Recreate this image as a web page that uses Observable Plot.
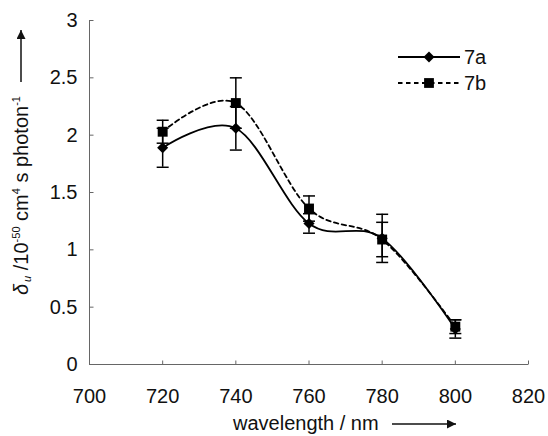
<!DOCTYPE html>
<html>
<head>
<meta charset="utf-8">
<script src="https://cdn.jsdelivr.net/npm/d3@7"></script>
<script src="https://cdn.jsdelivr.net/npm/@observablehq/plot@0.6"></script>
<style>
  html, body { margin: 0; padding: 0; background: #fff; }
  #chart { position: relative; width: 548px; height: 436px; }
</style>
</head>
<body>
<div id="chart"></div>
<script>
// Two-photon action cross-section spectra of compounds 7a and 7b
const wavelength = [720, 740, 760, 780, 800];
const delta7a = [1.89, 2.06, 1.23, 1.10, 0.31];
const err7a   = [0.17, 0.19, 0.085, 0.21, 0.08];
const delta7b = [2.03, 2.28, 1.36, 1.09, 0.33];
const err7b   = [0.10, 0.22, 0.11, 0.15, 0.06];
const xTicks = [700, 720, 740, 760, 780, 800, 820];
const yTicks = [0, 0.5, 1, 1.5, 2, 2.5, 3];
const seriesNames = ["7a", "7b"];

const rows = (name, vals, errs) =>
  wavelength.map((w, i) => ({series: name, x: w, y: vals[i], lo: vals[i] - errs[i], hi: vals[i] + errs[i]}));
const a = rows(seriesNames[0], delta7a, err7a);
const b = rows(seriesNames[1], delta7b, err7b);
const all = a.concat(b);

// custom symbols: error-bar caps and inward axis ticks
const cap = {draw(ctx) { ctx.moveTo(-6, 0); ctx.lineTo(6, 0); }};
const tickUp = {draw(ctx) { ctx.moveTo(0, 0); ctx.lineTo(0, -4); }};
const tickRight = {draw(ctx) { ctx.moveTo(0, 0); ctx.lineTo(4, 0); }};

const font = "'Liberation Sans', Arial, sans-serif";

const chart = Plot.plot({
  width: 548,
  height: 436,
  marginLeft: 89,
  marginRight: 20,
  marginTop: 20,
  marginBottom: 72,
  style: {fontFamily: font, fontSize: "20px", color: "#111", background: "#fff"},
  x: {domain: [700, 820], ticks: xTicks, tickSize: 0, tickPadding: 24, label: null},
  y: {domain: [0, 3], ticks: yTicks, tickSize: 0, tickPadding: 12, label: null, tickFormat: d => String(d)},
  marks: [
    Plot.ruleY([0], {stroke: "#666", strokeWidth: 1}),
    Plot.ruleX([700], {stroke: "#666", strokeWidth: 1}),
    Plot.dot(xTicks, {x: d => d, y: 0, symbol: tickUp, stroke: "#666", fill: "none", strokeWidth: 1}),
    Plot.dot(yTicks, {x: 700, y: d => d, symbol: tickRight, stroke: "#666", fill: "none", strokeWidth: 1}),
    // error bars
    Plot.ruleX(all, {x: "x", y1: "lo", y2: "hi", stroke: "#000", strokeWidth: 1.5}),
    Plot.dot(all, {x: "x", y: "lo", symbol: cap, stroke: "#000", fill: "none", strokeWidth: 1.5}),
    Plot.dot(all, {x: "x", y: "hi", symbol: cap, stroke: "#000", fill: "none", strokeWidth: 1.5}),
    // smoothed curves
    Plot.line(b, {x: "x", y: "y", curve: "cardinal", stroke: "#000", strokeWidth: 1.8, strokeDasharray: "4.5,3.5"}),
    Plot.line(a, {x: "x", y: "y", curve: "cardinal", stroke: "#000", strokeWidth: 1.8}),
    Plot.dot(b, {x: "x", y: "y", symbol: "square", r: 5.6, fill: "#000", stroke: "none"}),
    Plot.dot(a, {x: "x", y: "y", symbol: "diamond2", r: 5, fill: "#000", stroke: "none"})
  ]
});

document.getElementById("chart").appendChild(chart);

const svg = d3.select(chart);
const ink = "#111";

// arrowhead marker
svg.append("defs").append("marker")
  .attr("id", "arrowhead").attr("viewBox", "0 0 10 10")
  .attr("refX", 10).attr("refY", 5)
  .attr("markerWidth", 12).attr("markerHeight", 9)
  .attr("markerUnits", "userSpaceOnUse").attr("orient", "auto")
  .append("path").attr("d", "M0,0L10,5L0,10Z").attr("fill", ink);

// y axis title (rotated) with arrow
const yt = svg.append("text")
  .attr("transform", "translate(28,295) rotate(-90)")
  .attr("text-anchor", "start")
  .attr("font-family", font).attr("font-size", 20).attr("fill", ink);
yt.append("tspan").attr("font-style", "italic").text("δ");
yt.append("tspan").attr("font-style", "italic").attr("font-size", 11).attr("dy", 3).attr("dx", 2).text("u");
yt.append("tspan").attr("dy", -3).text(" /10");
yt.append("tspan").attr("font-size", 11).attr("dy", -8).text("-50");
yt.append("tspan").attr("dy", 8).text(" cm");
yt.append("tspan").attr("font-size", 11).attr("dy", -8).text("4");
yt.append("tspan").attr("dy", 8).text(" s photon");
yt.append("tspan").attr("font-size", 11).attr("dy", -8).text("-1");
svg.append("line").attr("x1", 21).attr("x2", 21).attr("y1", 82).attr("y2", 30)
  .attr("stroke", ink).attr("stroke-width", 1.5).attr("marker-end", "url(#arrowhead)");

// x axis title with arrow
svg.append("text").attr("x", 233).attr("y", 430)
  .attr("text-anchor", "start")
  .attr("font-family", font).attr("font-size", 20).attr("fill", ink)
  .text("wavelength / nm");
svg.append("line").attr("x1", 392).attr("x2", 456).attr("y1", 424).attr("y2", 424)
  .attr("stroke", ink).attr("stroke-width", 1.5).attr("marker-end", "url(#arrowhead)");

// legend
const legend = [
  {name: seriesNames[0], y: 57, dash: null, shape: d3.symbolDiamond2, size: 78},
  {name: seriesNames[1], y: 83, dash: "4.5,3.5", shape: d3.symbolSquare, size: 96}
];
const lg = svg.append("g");
legend.forEach(d => {
  lg.append("line").attr("x1", 398).attr("x2", 460).attr("y1", d.y).attr("y2", d.y)
    .attr("stroke", "#000").attr("stroke-width", 1.8).attr("stroke-dasharray", d.dash);
  lg.append("path").attr("transform", `translate(429,${d.y})`)
    .attr("d", d3.symbol(d.shape, d.size)()).attr("fill", "#000");
  lg.append("text").attr("x", 464).attr("y", d.y + 7)
    .attr("text-anchor", "start")
    .attr("font-family", font).attr("font-size", 20).attr("fill", ink).text(d.name);
});
</script>
</body>
</html>
